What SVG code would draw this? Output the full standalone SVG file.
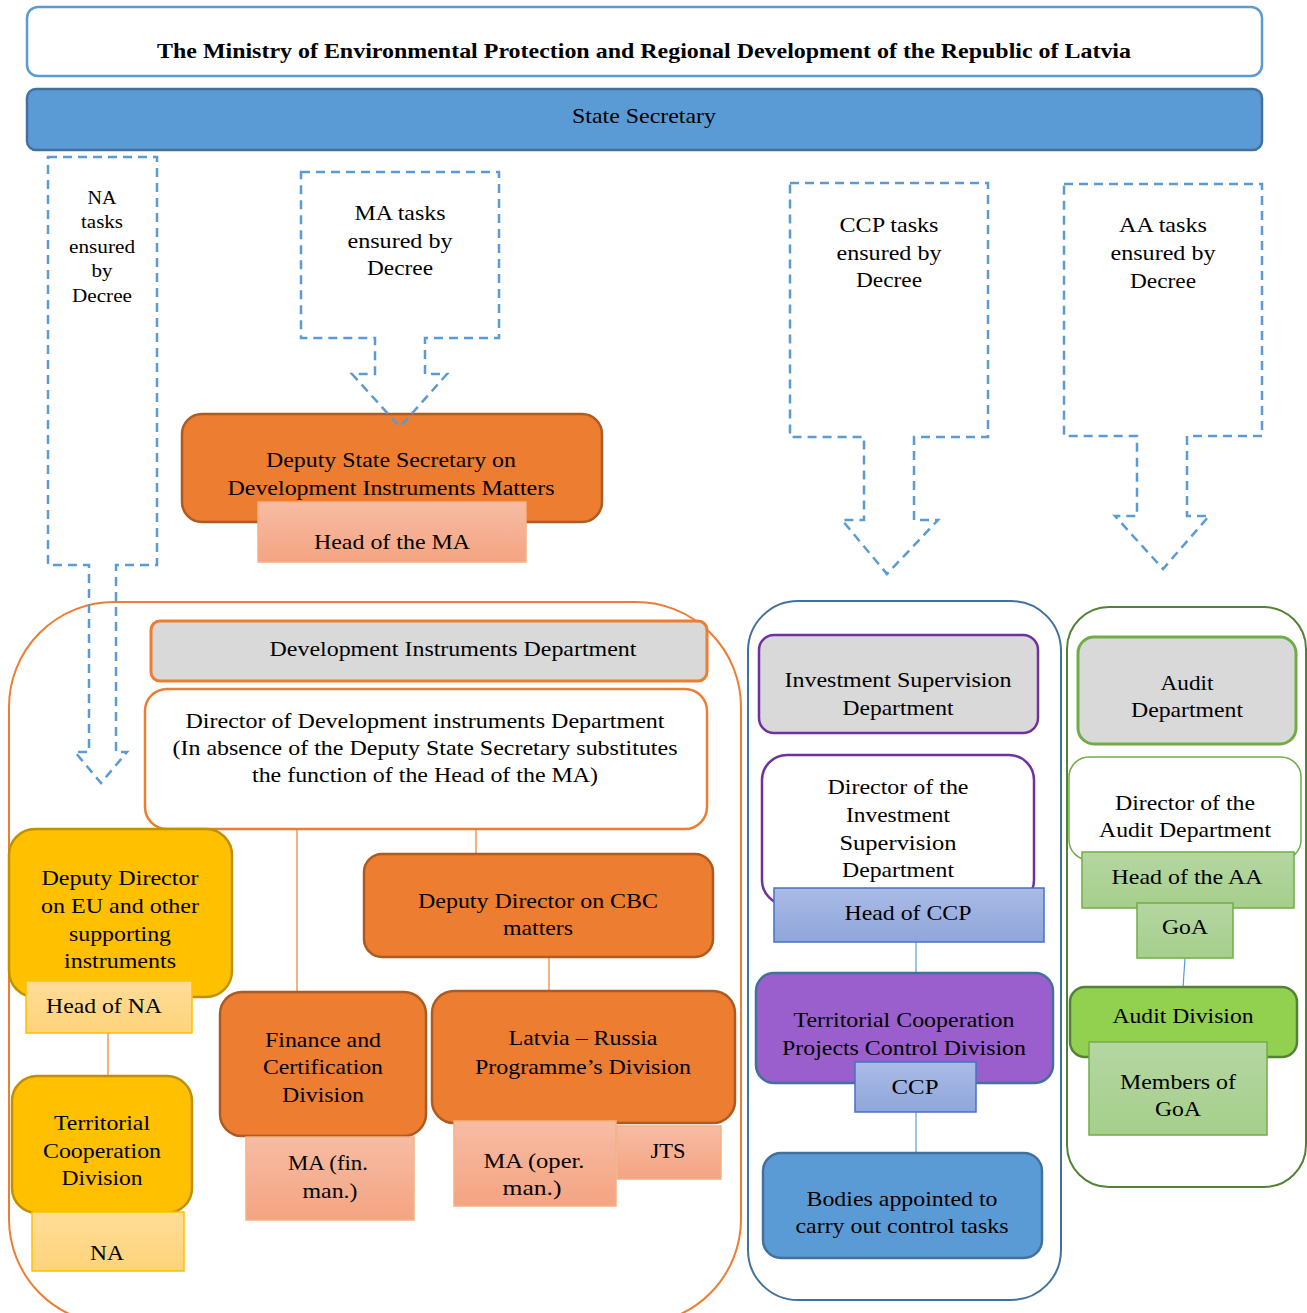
<svg xmlns="http://www.w3.org/2000/svg" width="1307" height="1313" viewBox="0 0 1307 1313" font-family="'Liberation Serif', 'DejaVu Serif', serif">
<style>
  text { font-family: 'Liberation Serif', 'DejaVu Serif', serif; font-size: 21px; fill: #000; text-anchor: middle; }
  .title { font-weight: bold; font-size: 22px; }
  .small { font-size: 19px; }
  .callout { fill: none; stroke: #5b9bd5; stroke-width: 2.5; stroke-dasharray: 9 6; }
  .link-o { stroke: #ed7d31; stroke-width: 1.2; fill: none; }
  .link-b { stroke: #5b9bd5; stroke-width: 1.2; fill: none; }
  .orange { fill: #ed7d31; stroke: #ae5a21; stroke-width: 2.5; }
  .yellow { fill: #ffc000; stroke: #bf9000; stroke-width: 2.5; }
  .salmon { fill: url(#gSalmon); stroke: #f4b183; stroke-width: 1.5; }
  .lyellow { fill: url(#gYellow); stroke: #ffc000; stroke-width: 1.5; }
  .lblue { fill: url(#gBlue); stroke: #4472c4; stroke-width: 1.5; }
  .lgreen { fill: url(#gGreen); stroke: #70ad47; stroke-width: 1.5; }
</style>
<defs>
  <linearGradient id="gSalmon" x1="0" y1="0" x2="0" y2="1">
    <stop offset="0" stop-color="#f7bca4"/>
    <stop offset="1" stop-color="#f4a482"/>
  </linearGradient>
  <linearGradient id="gYellow" x1="0" y1="0" x2="0" y2="1">
    <stop offset="0" stop-color="#ffdc98"/>
    <stop offset="1" stop-color="#fed47a"/>
  </linearGradient>
  <linearGradient id="gBlue" x1="0" y1="0" x2="0" y2="1">
    <stop offset="0" stop-color="#abbbe6"/>
    <stop offset="1" stop-color="#8ea6da"/>
  </linearGradient>
  <linearGradient id="gGreen" x1="0" y1="0" x2="0" y2="1">
    <stop offset="0" stop-color="#b5d6a2"/>
    <stop offset="1" stop-color="#a5cf8b"/>
  </linearGradient>
</defs>

<rect width="1307" height="1313" fill="#fff"/>

<!-- Ministry header -->
<g id="ministry">
  <rect x="27" y="7" width="1235" height="69" rx="11" fill="#fff" stroke="#5b9bd5" stroke-width="2.5"/>
  <text class="title" x="644" y="58" textLength="974" lengthAdjust="spacingAndGlyphs">The Ministry of Environmental Protection and Regional Development of the Republic of Latvia</text>
</g>

<g id="state-secretary">
  <rect x="27" y="89" width="1235" height="61" rx="9" fill="#5b9bd5" stroke="#41719c" stroke-width="2.5"/>
  <text x="644" y="123" textLength="144" lengthAdjust="spacingAndGlyphs">State Secretary</text>
</g>

<!-- Containers -->
<g id="ma-area">
  <rect x="9" y="602" width="732" height="722" rx="105" fill="#fff" stroke="#ed7d31" stroke-width="2"/>
</g>
<g id="ccp-area">
  <rect x="748" y="601" width="313" height="699" rx="50" fill="#fff" stroke="#41719c" stroke-width="2"/>
</g>
<g id="aa-area">
  <rect x="1067" y="607" width="239" height="580" rx="42" fill="#fff" stroke="#548235" stroke-width="2"/>
</g>

<!-- Connectors -->
<g id="connectors">
  <line class="link-o" x1="297" y1="829" x2="297" y2="992"/>
  <line class="link-o" x1="476" y1="829" x2="476" y2="855"/>
  <line class="link-o" x1="549" y1="957" x2="549" y2="992"/>
  <line class="link-o" x1="108" y1="1033" x2="108" y2="1077"/>
  <line class="link-b" x1="916" y1="942" x2="916" y2="974"/>
  <line class="link-b" x1="916" y1="1112" x2="916" y2="1153"/>
  <line class="link-b" x1="1185" y1="958" x2="1183" y2="988"/>
</g>

<!-- MA branch -->
<g id="deputy-state-secretary">
  <rect class="orange" x="182" y="414" width="420" height="108" rx="20"/>
  <text x="391" y="467" textLength="250" lengthAdjust="spacingAndGlyphs">Deputy State Secretary on</text>
  <text x="391" y="495" textLength="327" lengthAdjust="spacingAndGlyphs">Development Instruments Matters</text>
</g>
<g id="head-ma">
  <rect class="salmon" x="258" y="502" width="268" height="60"/>
  <text x="392" y="549" textLength="156" lengthAdjust="spacingAndGlyphs">Head of the MA</text>
</g>

<g id="dev-instruments-dept">
  <rect x="151" y="621" width="556" height="60" rx="9" fill="#d9d9d9" stroke="#ed7d31" stroke-width="3"/>
  <text x="453" y="656" textLength="367" lengthAdjust="spacingAndGlyphs">Development Instruments Department</text>
</g>
<g id="director-dev">
  <rect x="145" y="689" width="562" height="140" rx="22" fill="#fff" stroke="#ed7d31" stroke-width="2.5"/>
  <text x="425" y="728" textLength="479" lengthAdjust="spacingAndGlyphs">Director of Development instruments Department</text>
  <text x="425" y="755" textLength="505" lengthAdjust="spacingAndGlyphs">(In absence of the Deputy State Secretary substitutes</text>
  <text x="425" y="782" textLength="346" lengthAdjust="spacingAndGlyphs">the function of the Head of the MA)</text>
</g>

<g id="deputy-director-eu">
  <rect class="yellow" x="9" y="829" width="223" height="168" rx="26"/>
  <text x="120" y="885" textLength="157" lengthAdjust="spacingAndGlyphs">Deputy Director</text>
  <text x="120" y="913" textLength="158" lengthAdjust="spacingAndGlyphs">on EU and other</text>
  <text x="120" y="941" textLength="102" lengthAdjust="spacingAndGlyphs">supporting</text>
  <text x="120" y="968" textLength="112" lengthAdjust="spacingAndGlyphs">instruments</text>
</g>
<g id="head-na">
  <rect class="lyellow" x="26" y="981" width="166" height="52"/>
  <text x="104" y="1013" textLength="116" lengthAdjust="spacingAndGlyphs">Head of NA</text>
</g>
<g id="territorial-coop-div">
  <rect class="yellow" x="12" y="1076" width="180" height="137" rx="25"/>
  <text x="102" y="1130" textLength="96" lengthAdjust="spacingAndGlyphs">Territorial</text>
  <text x="102" y="1158" textLength="118" lengthAdjust="spacingAndGlyphs">Cooperation</text>
  <text x="102" y="1185" textLength="81" lengthAdjust="spacingAndGlyphs">Division</text>
</g>
<g id="na">
  <rect class="lyellow" x="32" y="1212" width="152" height="59"/>
  <text x="107" y="1260" textLength="34" lengthAdjust="spacingAndGlyphs">NA</text>
</g>

<g id="deputy-director-cbc">
  <rect class="orange" x="364" y="854" width="349" height="103" rx="18"/>
  <text x="538" y="908" textLength="240" lengthAdjust="spacingAndGlyphs">Deputy Director on CBC</text>
  <text x="538" y="935" textLength="70" lengthAdjust="spacingAndGlyphs">matters</text>
</g>
<g id="finance-div">
  <rect class="orange" x="220" y="992" width="206" height="144" rx="22"/>
  <text x="323" y="1047" textLength="116" lengthAdjust="spacingAndGlyphs">Finance and</text>
  <text x="323" y="1074" textLength="120" lengthAdjust="spacingAndGlyphs">Certification</text>
  <text x="323" y="1102" textLength="82" lengthAdjust="spacingAndGlyphs">Division</text>
</g>
<g id="ma-fin">
  <rect class="salmon" x="246" y="1137" width="168" height="83"/>
  <text x="328" y="1170" textLength="80" lengthAdjust="spacingAndGlyphs">MA (fin.</text>
  <text x="330" y="1198" textLength="55" lengthAdjust="spacingAndGlyphs">man.)</text>
</g>
<g id="latvia-russia-div">
  <rect class="orange" x="432" y="991" width="303" height="132" rx="22"/>
  <text x="583" y="1045" textLength="149" lengthAdjust="spacingAndGlyphs">Latvia – Russia</text>
  <text x="583" y="1074" textLength="216" lengthAdjust="spacingAndGlyphs">Programme’s Division</text>
</g>
<g id="ma-oper">
  <rect class="salmon" x="454" y="1121" width="162" height="85"/>
  <text x="534" y="1168" textLength="101" lengthAdjust="spacingAndGlyphs">MA (oper.</text>
  <text x="532" y="1195" textLength="59" lengthAdjust="spacingAndGlyphs">man.)</text>
</g>
<g id="jts">
  <rect class="salmon" x="617" y="1126" width="104" height="53"/>
  <text x="668" y="1158" textLength="35" lengthAdjust="spacingAndGlyphs">JTS</text>
</g>

<!-- CCP branch -->
<g id="investment-supervision-dept">
  <rect x="759" y="635" width="279" height="98" rx="15" fill="#d9d9d9" stroke="#7030a0" stroke-width="2.5"/>
  <text x="898" y="687" textLength="227" lengthAdjust="spacingAndGlyphs">Investment Supervision</text>
  <text x="898" y="715" textLength="111" lengthAdjust="spacingAndGlyphs">Department</text>
</g>
<g id="director-isd">
  <rect x="762" y="755" width="272" height="150" rx="25" fill="#fff" stroke="#7030a0" stroke-width="2.5"/>
  <text x="898" y="794" textLength="141" lengthAdjust="spacingAndGlyphs">Director of the</text>
  <text x="898" y="822" textLength="104" lengthAdjust="spacingAndGlyphs">Investment</text>
  <text x="898" y="850" textLength="117" lengthAdjust="spacingAndGlyphs">Supervision</text>
  <text x="898" y="877" textLength="112" lengthAdjust="spacingAndGlyphs">Department</text>
</g>
<g id="head-ccp">
  <rect class="lblue" x="774" y="888" width="270" height="54"/>
  <text x="908" y="920" textLength="127" lengthAdjust="spacingAndGlyphs">Head of CCP</text>
</g>
<g id="tc-projects-control-div">
  <rect x="756" y="973" width="297" height="110" rx="18" fill="#9a5fcd" stroke="#41719c" stroke-width="2.5"/>
  <text x="904" y="1027" textLength="221" lengthAdjust="spacingAndGlyphs">Territorial Cooperation</text>
  <text x="904" y="1055" textLength="244" lengthAdjust="spacingAndGlyphs">Projects Control Division</text>
</g>
<g id="ccp">
  <rect class="lblue" x="855" y="1062" width="121" height="50"/>
  <text x="915" y="1094" textLength="47" lengthAdjust="spacingAndGlyphs">CCP</text>
</g>
<g id="control-bodies">
  <rect x="763" y="1153" width="279" height="105" rx="18" fill="#5b9bd5" stroke="#41719c" stroke-width="2.5"/>
  <text x="902" y="1206" textLength="191" lengthAdjust="spacingAndGlyphs">Bodies appointed to</text>
  <text x="902" y="1233" textLength="213" lengthAdjust="spacingAndGlyphs">carry out control tasks</text>
</g>

<!-- AA branch -->
<g id="audit-dept">
  <rect x="1078" y="637" width="218" height="107" rx="16" fill="#d9d9d9" stroke="#70ad47" stroke-width="3"/>
  <text x="1187" y="690" textLength="53" lengthAdjust="spacingAndGlyphs">Audit</text>
  <text x="1187" y="717" textLength="112" lengthAdjust="spacingAndGlyphs">Department</text>
</g>
<g id="director-audit">
  <rect x="1069" y="757" width="232" height="103" rx="20" fill="#fff" stroke="#70ad47" stroke-width="1.5"/>
  <text x="1185" y="810" textLength="140" lengthAdjust="spacingAndGlyphs">Director of the</text>
  <text x="1185" y="837" textLength="172" lengthAdjust="spacingAndGlyphs">Audit Department</text>
</g>
<g id="head-aa">
  <rect class="lgreen" x="1082" y="852" width="212" height="56"/>
  <text x="1187" y="884" textLength="151" lengthAdjust="spacingAndGlyphs">Head of the AA</text>
</g>
<g id="goa">
  <rect class="lgreen" x="1137" y="903" width="96" height="55"/>
  <text x="1185" y="934" textLength="46" lengthAdjust="spacingAndGlyphs">GoA</text>
</g>
<g id="audit-div">
  <rect x="1070" y="987" width="227" height="70" rx="15" fill="#92d050" stroke="#548235" stroke-width="2.5"/>
  <text x="1183" y="1023" textLength="141" lengthAdjust="spacingAndGlyphs">Audit Division</text>
</g>
<g id="members-goa">
  <rect class="lgreen" x="1089" y="1042" width="178" height="93"/>
  <text x="1178" y="1089" textLength="116" lengthAdjust="spacingAndGlyphs">Members of</text>
  <text x="1178" y="1116" textLength="46" lengthAdjust="spacingAndGlyphs">GoA</text>
</g>

<!-- Task callouts -->
<g id="na-tasks">
  <path class="callout" d="M48,157 H157 V565 H116 V752 H127 L101,783 L75,752 H89 V565 H48 Z"/>
  <text class="small" x="102" y="204" textLength="29" lengthAdjust="spacingAndGlyphs">NA</text>
  <text class="small" x="102" y="228" textLength="42" lengthAdjust="spacingAndGlyphs">tasks</text>
  <text class="small" x="102" y="253" textLength="66" lengthAdjust="spacingAndGlyphs">ensured</text>
  <text class="small" x="102" y="277" textLength="21" lengthAdjust="spacingAndGlyphs">by</text>
  <text class="small" x="102" y="302" textLength="60" lengthAdjust="spacingAndGlyphs">Decree</text>
</g>
<g id="ma-tasks">
  <path class="callout" d="M301,172 H499 V338 H425 V374 H447 L400,427 L352,374 H375 V338 H301 Z"/>
  <text x="400" y="220" textLength="91" lengthAdjust="spacingAndGlyphs">MA tasks</text>
  <text x="400" y="248" textLength="105" lengthAdjust="spacingAndGlyphs">ensured by</text>
  <text x="400" y="275" textLength="66" lengthAdjust="spacingAndGlyphs">Decree</text>
</g>
<g id="ccp-tasks">
  <path class="callout" d="M790,183 H988 V437 H914 V520 H938 L887,574 L842,520 H864 V437 H790 Z"/>
  <text x="889" y="232" textLength="99" lengthAdjust="spacingAndGlyphs">CCP tasks</text>
  <text x="889" y="260" textLength="105" lengthAdjust="spacingAndGlyphs">ensured by</text>
  <text x="889" y="287" textLength="66" lengthAdjust="spacingAndGlyphs">Decree</text>
</g>
<g id="aa-tasks">
  <path class="callout" d="M1064,184 H1262 V436 H1187 V516 H1209 L1163,569 L1115,516 H1137 V436 H1064 Z"/>
  <text x="1163" y="232" textLength="88" lengthAdjust="spacingAndGlyphs">AA tasks</text>
  <text x="1163" y="260" textLength="105" lengthAdjust="spacingAndGlyphs">ensured by</text>
  <text x="1163" y="288" textLength="66" lengthAdjust="spacingAndGlyphs">Decree</text>
</g>
</svg>
